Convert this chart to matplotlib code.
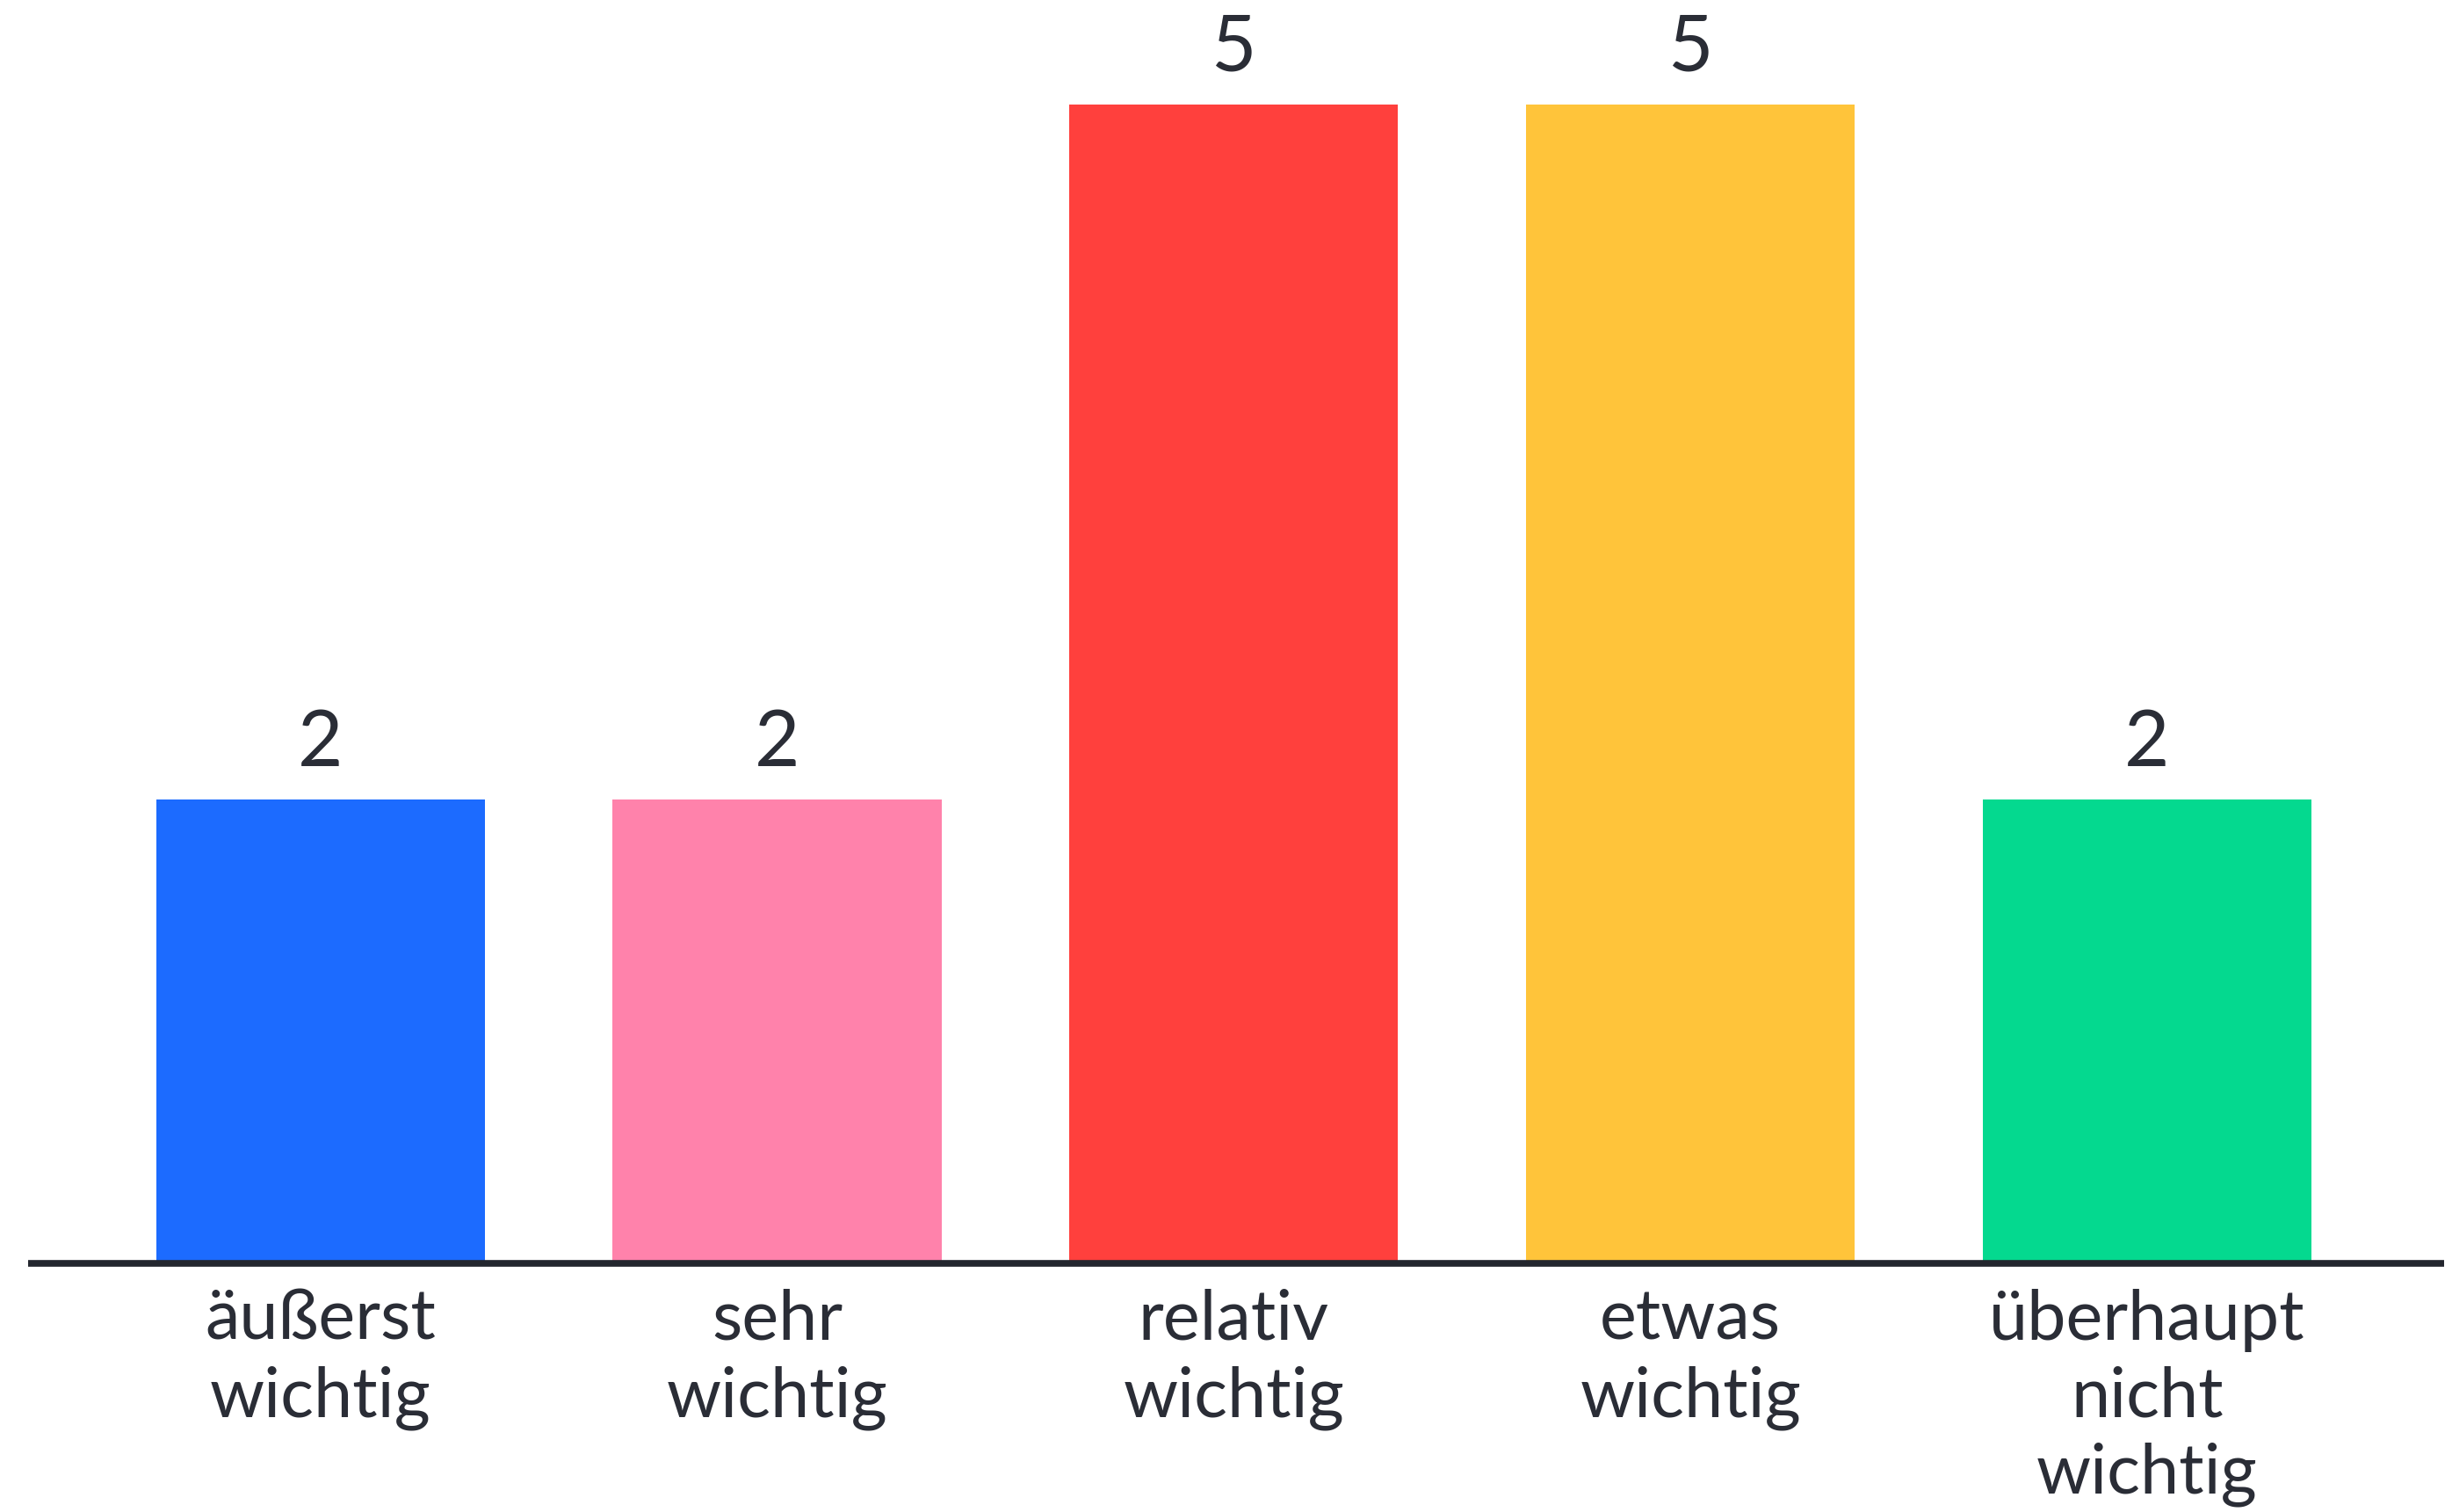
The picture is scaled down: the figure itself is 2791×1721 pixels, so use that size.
import matplotlib
matplotlib.use("Agg")
import matplotlib.pyplot as plt
import numpy as np

# data
categories = ["äußerst\nwichtig", "sehr\nwichtig", "relativ\nwichtig",
              "etwas\nwichtig", "überhaupt\nnicht\nwichtig"]
counts = [2, 2, 5, 5, 2]
colors = ["#1c6bff", "#ff82ab", "#ff403d", "#ffc43a", "#04d98f"]

text_col = "#2a2d36"

plt.rcParams['font.family'] = ['Lato', 'DejaVu Sans']

fig = plt.figure(figsize=(27.91, 17.21), dpi=100)
ax = fig.add_axes([0, 0, 1, 1])

x = np.arange(len(categories))
bars = ax.bar(x, counts, width=0.72, color=colors, zorder=2)

# numbers above the bars
ax.bar_label(bars, labels=[str(c) for c in counts], padding=16,
             fontsize=64, color=text_col)

# baseline
ax.plot([-0.64, 4.65], [0, 0], color="#23262e", lw=5.5, zorder=3,
        solid_capstyle="butt")

# category labels under the axis
for xi, lab in zip(x, categories):
    ax.text(xi, -0.11, lab, ha="center", va="top", fontsize=57,
            color=text_col, linespacing=1.26)

ax.set_xlim(-0.702, 4.668)
ax.set_ylim(-1.073, 5.451)
ax.axis("off")

fig.savefig("out.png", dpi=100, facecolor="white")
